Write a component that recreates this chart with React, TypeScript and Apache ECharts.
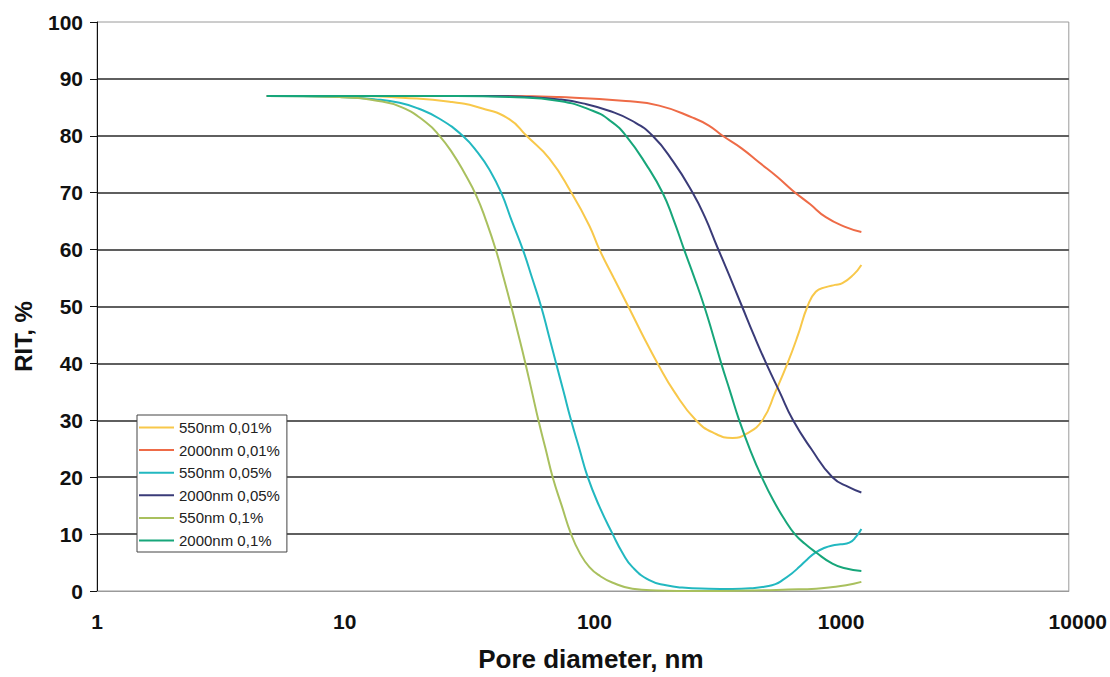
import React, { useEffect, useRef } from "react";
import * as echarts from "echarts";

const seriesNames = ["550nm 0,01%", "2000nm 0,01%", "550nm 0,05%", "2000nm 0,05%", "550nm 0,1%", "2000nm 0,1%"];
const seriesColors = ["#F8C84A", "#EE6B47", "#22B8C0", "#3A3B78", "#A9C05E", "#17A67A"];

const xTicks = [1, 10, 100, 1000, 10000];
const yTicks = [0, 10, 20, 30, 40, 50, 60, 70, 80, 90, 100];

const rit550_001: [number, number][] = [
  [5, 87], [12, 87], [18, 86.7], [28.3, 86], [38.6, 84.8], [49.9, 82.9], [58.6, 80], [72.8, 76], [89.7, 70],
  [106.3, 64.2], [117, 60], [134, 55], [153.8, 50], [176, 45], [203, 40], [238, 35], [292, 30], [345, 27.8],
  [413, 26.9], [470, 27.6], [548, 30], [620, 35], [695, 40], [768, 45], [840, 50], [909, 52.6], [1000, 53.4],
  [1090, 53.8], [1170, 54.1], [1300, 55.6], [1400, 57.3],
];
const rit2000_001: [number, number][] = [
  [5, 87], [50, 87], [80, 86.8], [150, 86.1], [206, 85.3], [283, 83.2], [330, 81.8], [376, 80], [450, 77.8],
  [532, 75.3], [630, 72.8], [729, 70.4], [860, 68], [1000, 65.7], [1200, 64], [1400, 63.1],
];
const rit550_005: [number, number][] = [
  [5, 87], [10, 86.8], [14, 86.4], [17.6, 85.8], [21, 84.8], [25.7, 83], [32, 80], [37, 77], [41.3, 74],
  [46.1, 70], [51, 65], [56.6, 60], [61.8, 55], [67.3, 50], [72.3, 45], [77.6, 40], [83.3, 35], [89.4, 30],
  [96.7, 25], [104.7, 20], [116.5, 15], [132.6, 10], [146, 6.6], [160, 4.2], [187.6, 1.9], [220, 1.0],
  [256, 0.6], [330, 0.4], [412, 0.35], [500, 0.5], [566, 0.8], [620, 1.2], [663, 1.9], [720, 3.0], [776, 4.2],
  [840, 5.6], [909, 6.8], [990, 7.6], [1064, 8.0], [1150, 8.2], [1250, 8.5], [1330, 9.5], [1400, 10.9],
];
const rit2000_005: [number, number][] = [
  [5, 87], [40, 87], [60, 86.8], [80, 86.4], [100, 85.7], [128, 84.4], [160, 82.6], [193.6, 80], [235, 75.5],
  [283, 70], [318, 65.7], [357, 60.5], [400, 55.5], [452, 50], [505, 45], [568, 40], [645, 35], [733, 30],
  [870, 25], [1064, 20], [1250, 18.2], [1400, 17.3],
];
const rit550_01: [number, number][] = [
  [5, 87], [10, 86.8], [14, 86.2], [18, 85], [22.7, 82.3], [25.7, 80], [29, 77], [32.5, 73.5], [36.4, 69.5],
  [40, 65], [44, 59.7], [47.2, 55], [50.7, 50], [54.3, 45], [58, 40], [61.7, 35], [65.6, 30], [70.2, 25],
  [75.1, 20], [81.8, 15], [89.4, 10], [97, 6.7], [106.4, 4.2], [118, 2.6], [132, 1.5], [160, 0.4], [200, 0.1],
  [300, 0], [500, 0.1], [700, 0.25], [912, 0.4], [1050, 0.65], [1211, 1.0], [1400, 1.6],
];
const rit2000_01: [number, number][] = [
  [5, 87], [30, 87], [50, 86.8], [80, 86.1], [109.7, 84.4], [130, 82.6], [150.5, 80], [185, 74.5], [212.8, 70],
  [235, 65.5], [261, 60], [288, 55], [316, 50], [343, 45], [371, 40], [404, 35], [440, 30], [490, 24.6],
  [545, 20], [610, 15.8], [680, 12.4], [745, 10], [820, 8.3], [909, 6.8], [1064, 4.8], [1200, 4.0], [1400, 3.5],
];

const seriesData = [rit550_001, rit2000_001, rit550_005, rit2000_005, rit550_01, rit2000_01];

const FONT = "Arial, 'Liberation Sans', sans-serif";
const xLabelPad = [0, 9.5, 23, 30.5, 18];

export default function App() {
  const ref = useRef<HTMLDivElement>(null);
  useEffect(() => {
    if (!ref.current) return;
    const chart = echarts.init(ref.current, undefined, { renderer: "svg" });
    const labelStyle = { fontFamily: FONT, fontSize: 21, fontWeight: "bold", color: "#111" };
    const rich: Record<string, any> = {};
    xLabelPad.forEach((p, i) => {
      rich["o" + i] = { ...labelStyle, padding: [0, 0, 0, p] };
    });
    chart.setOption({
      animation: false,
      backgroundColor: "#ffffff",
      grid: { left: 97, right: 40, top: 22, bottom: 84, show: true, borderColor: "#9a9a9a", borderWidth: 1, backgroundColor: "transparent" },
      legend: {
        orient: "vertical",
        left: 137,
        top: 415,
        data: seriesNames,
        icon: "path://M0 0 H35 V2 H0 Z",
        itemWidth: 35,
        itemHeight: 15,
        itemGap: 7.6,
        padding: [5, 7, 4, 2],
        borderColor: "#444",
        borderWidth: 1,
        backgroundColor: "#ffffff",
        textStyle: { fontFamily: FONT, fontSize: 15, color: "#222", lineHeight: 15 },
      },
      xAxis: {
        type: "log",
        logBase: 10,
        min: xTicks[0],
        max: xTicks[xTicks.length - 1],
        interval: 1,
        name: "Pore diameter, nm",
        nameLocation: "middle",
        nameGap: 55,
        nameTextStyle: { fontFamily: FONT, fontSize: 26, fontWeight: "bold", color: "#111", padding: [0, 0, 0, 16] },
        axisLine: { show: true, lineStyle: { color: "#9a9a9a", width: 1 } },
        axisTick: { show: false },
        splitLine: { show: false },
        minorTick: { show: false },
        axisLabel: {
          margin: 20,
          ...labelStyle,
          rich,
          formatter: (v: number) => {
            const r = Math.round(v);
            const i = xTicks.indexOf(r);
            return `{o${i < 0 ? 0 : i}|${r}}`;
          },
        },
      },
      yAxis: {
        type: "value",
        min: yTicks[0],
        max: yTicks[yTicks.length - 1],
        interval: 10,
        name: "RIT, %",
        nameLocation: "middle",
        nameGap: 62,
        nameTextStyle: { fontFamily: FONT, fontSize: 24, fontWeight: "bold", color: "#111", padding: [0, 60, 0, 0] },
        axisLine: { show: true, lineStyle: { color: "#111", width: 1 } },
        axisTick: { show: true, inside: false, length: 7, lineStyle: { color: "#111" } },
        splitLine: { show: true, showMaxLine: false, showMinLine: false, lineStyle: { color: "#2a2a2a", width: 1.6 } },
        axisLabel: { margin: 14, ...labelStyle },
      },
      series: seriesNames.map((name, i) => ({
        name,
        type: "line",
        data: seriesData[i],
        showSymbol: false,
        symbol: "none",
        smooth: 0.5,
        color: seriesColors[i],
        lineStyle: { color: seriesColors[i], width: 2 },
      })),
    });
    return () => chart.dispose();
  }, []);
  return <div ref={ref} style={{ position: "absolute", left: 0, top: 0, width: 1110, height: 677 }} />;
}
